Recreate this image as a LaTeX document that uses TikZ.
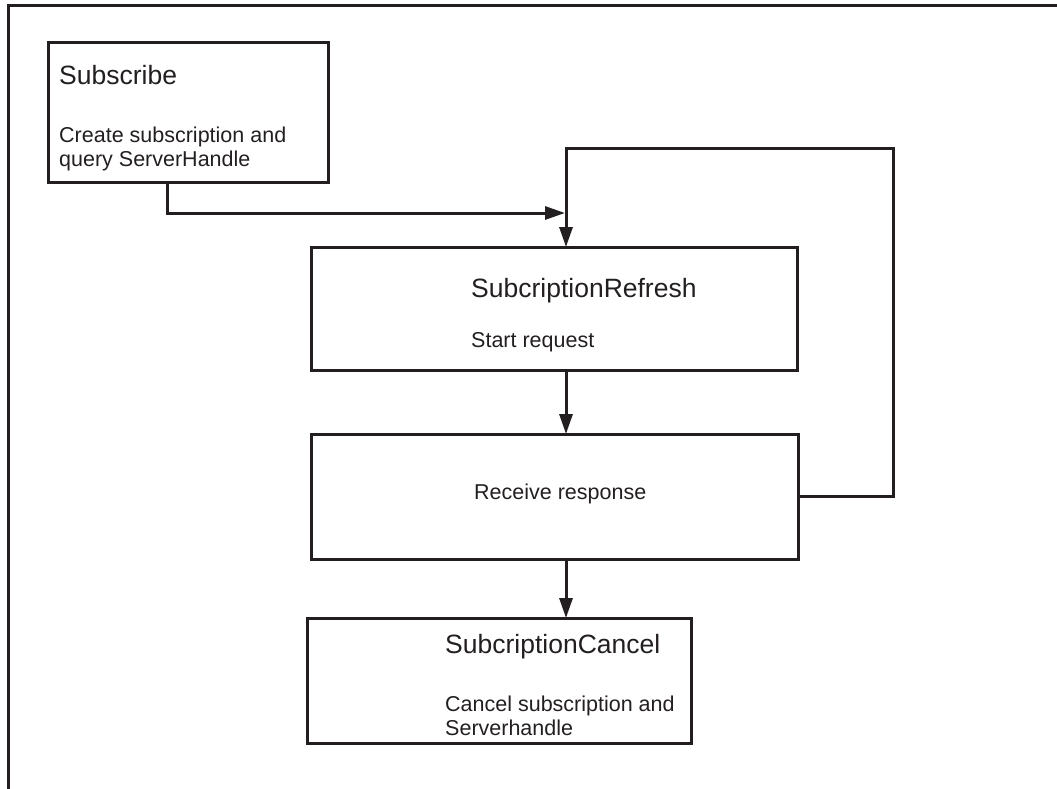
\documentclass[tikz,border=0pt]{standalone}
\usepackage{fontspec}
\setmainfont{Liberation Sans}
\usetikzlibrary{arrows.meta,positioning}
\definecolor{ink}{HTML}{231F20}
\tikzset{
  box/.style={draw=ink,line width=3pt,anchor=north west,inner sep=0pt,outer sep=0pt},
  title/.style={anchor=base west,inner sep=0pt,text=ink,font=\fontsize{26.5}{30}\selectfont},
  body/.style={anchor=base west,inner sep=0pt,text=ink,align=left,
               font=\fontsize{21.5}{24}\selectfont},
  flow/.style={-{Triangle[length=20pt,width=13pt]},line width=3pt,color=ink},
  frame/.style={line width=3pt,color=ink},
}
\begin{document}
\begin{tikzpicture}[x=1pt,y=-1pt]
  \useasboundingbox (0,0) rectangle (1057,789);
  \draw[frame] (1057,6) -- (8,6) -- (8,789);
  % boxes
  \node[box,minimum width=280pt,minimum height=139pt] (sub) at (48,43) {};
  \node[box,minimum width=486pt,minimum height=123pt] (refresh) at (311,247) {};
  \node[box,minimum width=487pt,minimum height=125pt] (receive) at (311,434) {};
  \node[box,minimum width=384pt,minimum height=125pt] (cancel) at (307,618) {};
  % texts
  \node[title] (subT) at (59,85) {Subscribe};
  \node[body] (subB) at (59,166) {Create subscription and\\query ServerHandle};
  \node[title] (refreshT) at (471,297) {SubcriptionRefresh};
  \node[body] (refreshB) at (471,347) {Start request};
  \node[body] (receiveB) at (474,499) {Receive response};
  \node[title] (cancelT) at (445,653) {SubcriptionCancel};
  \node[body] (cancelB) at (445,735) {Cancel subscription and\\Serverhandle};
  % connectors
  \coordinate (tap) at (167,0);
  \coordinate (join) at (565,213);
  \coordinate (top) at (566,148);
  \coordinate (loopR) at (893,148);
  \draw[flow] (sub.south -| tap) |- (join);
  \draw[flow] (receive.east) -| (loopR) -- (top) -- (top |- refresh.north);
  \draw[flow] (refresh.south -| top) -- (receive.north -| top);
  \draw[flow] (receive.south -| top) -- (cancel.north -| top);
\end{tikzpicture}
\end{document}
